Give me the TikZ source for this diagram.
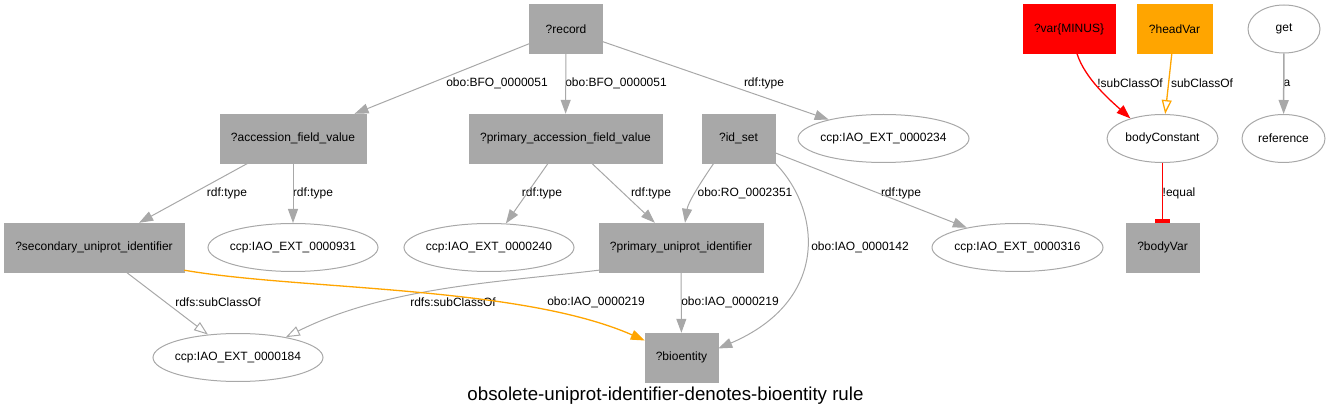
\documentclass[tikz,border=0pt]{standalone}
\usepackage{fontspec}
\setmainfont{Liberation Sans}
\usetikzlibrary{arrows.meta,shapes.geometric}

\definecolor{gvgray}{HTML}{A8A8A8}
\definecolor{gvred}{HTML}{FF0000}
\definecolor{gvorange}{HTML}{FFA500}
\newcommand{\gvfont}{\fontsize{12}{14}\selectfont}

\tikzset{
	var/.style={rectangle, fill=gvgray, draw=gvgray, inner sep=0pt, minimum height=49pt, font=\gvfont},
	const/.style={ellipse, draw=gvgray, line width=1pt, inner sep=0pt, inner xsep=-5pt, minimum height=48pt, font=\gvfont},
	lbl/.style={inner sep=0pt, font=\gvfont},
	rel/.style={draw=gvgray, line width=1pt, -{Triangle[length=14pt,width=10pt]}},
	relsub/.style={draw=gvgray, line width=1pt, -{Triangle[open,length=14pt,width=10pt]}},
}

\begin{document}
\begin{tikzpicture}[x=1pt,y=-1pt]
	\useasboundingbox (0,0) rectangle (1332,419);

	% variables
	\node[var, minimum width=73pt]  (record)    at (566,29)      {?record};
	\node[var, minimum width=146pt] (acc)       at (293,138.5)   {?accession\_field\_value};
	\node[var, minimum width=193pt] (primacc)   at (565.5,138.5) {?primary\_accession\_field\_value};
	\node[var, minimum width=73pt]  (idset)     at (738.5,138.5) {?id\_set};
	\node[var, minimum width=180pt] (secid)     at (94,247.5)    {?secondary\_uniprot\_identifier};
	\node[var, minimum width=164pt] (primid)    at (681,247.5)   {?primary\_uniprot\_identifier};
	\node[var, minimum width=73pt]  (bioentity) at (681.5,357.5) {?bioentity};
	\node[var, minimum width=73pt]  (bodyvar)   at (1162.5,247.5) {?bodyVar};
	\node[var, minimum width=92pt, fill=gvred, draw=gvred]       (minusvar) at (1069,29)   {?var\{MINUS\}};
	\node[var, minimum width=75pt, fill=gvorange, draw=gvorange] (headvar)  at (1174.5,29) {?headVar};

	% constants
	\node[const, minimum width=171pt] (iao234)    at (883.5,138.5)  {ccp:IAO\_EXT\_0000234};
	\node[const, minimum width=170pt] (iao931)    at (293,247.5)    {ccp:IAO\_EXT\_0000931};
	\node[const, minimum width=170pt] (iao240)    at (489,247.5)    {ccp:IAO\_EXT\_0000240};
	\node[const, minimum width=171pt] (iao316)    at (1017.5,247.5) {ccp:IAO\_EXT\_0000316};
	\node[const, minimum width=170pt] (iao184)    at (238,357.5)    {ccp:IAO\_EXT\_0000184};
	\node[const, minimum width=111pt] (bodyconst) at (1162.5,138.5) {bodyConstant};
	\node[const, minimum width=72pt]  (get)       at (1284,29)      {get};
	\node[const, minimum width=83pt]  (reference) at (1283.5,138.5) {reference};

	% edge labels
	\node[lbl] (l-rec-acc)   at (497,83)   {obo:BFO\_0000051};
	\node[lbl] (l-rec-pacc)  at (616,83)   {obo:BFO\_0000051};
	\node[lbl] (l-rec-type)  at (764,83)   {rdf:type};
	\node[lbl] (l-acc-sec)   at (227,193)  {rdf:type};
	\node[lbl] (l-acc-type)  at (313,193)  {rdf:type};
	\node[lbl] (l-pacc-type) at (542,193)  {rdf:type};
	\node[lbl] (l-pacc-pid)  at (651,193)  {rdf:type};
	\node[lbl] (l-set-pid)   at (745,193)  {obo:RO\_0002351};
	\node[lbl] (l-set-type)  at (901,193)  {rdf:type};
	\node[lbl] (l-set-bio)   at (860,247)  {obo:IAO\_0000142};
	\node[lbl] (l-sec-sub)   at (218,302)  {rdfs:subClassOf};
	\node[lbl] (l-pid-sub)   at (453,302)  {rdfs:subClassOf};
	\node[lbl] (l-sec-bio)   at (596,302)  {obo:IAO\_0000219};
	\node[lbl] (l-pid-bio)   at (730,302)  {obo:IAO\_0000219};
	\node[lbl] (l-minus)     at (1130,83)  {!subClassOf};
	\node[lbl] (l-head)      at (1202,83)  {subClassOf};
	\node[lbl] (l-get)       at (1287,83)  {a};
	\node[lbl] (l-equal)     at (1179,193) {!equal};

	% rule graph
	\draw[rel] (record) -- (acc);
	\draw[rel] (record) -- (primacc);
	\draw[rel] (record) -- (iao234);
	\draw[rel] (acc) -- (secid);
	\draw[rel] (acc) -- (iao931);
	\draw[rel] (primacc) -- (iao240);
	\draw[rel] (primacc) -- (primid);
	\draw[rel] ([xshift=12pt]idset.south west) .. controls +(-15,22) and +(3,-20) .. ([xshift=4pt]primid.north);	%RO link
	\draw[rel] (idset.south east) .. controls +(46,47) and +(112,-48) .. ([yshift=9pt]bioentity.east);		%IAO_0000142
	\draw[rel] (idset) -- (iao316);
	\draw[relsub] (secid) -- (iao184);
	\draw[relsub] ([yshift=2pt]primid.south west) .. controls +(-100,12) and +(100,-50) .. (iao184.23);
	\draw[rel, draw=gvorange, line width=1.3pt] ([yshift=2pt]secid.south east) .. controls +(116,20) and +(-125,-55) .. ([yshift=17pt]bioentity.west);
	\draw[rel] (primid) -- (bioentity);

	% legend
	\draw[rel, draw=gvred, line width=1.3pt] ([xshift=8pt]minusvar.south) .. controls +(8,25) and +(-20,-18) .. (bodyconst.148);
	\draw[relsub, draw=gvorange, line width=1.3pt] (headvar) -- (bodyconst);
	\draw[rel, line width=1.5pt] (get) -- (reference);
	\draw[draw=gvred, line width=1.3pt, -{Rectangle[length=4pt,width=15pt]}] (bodyconst) -- (bodyvar);

	\node[font=\fontsize{18.7}{22}\selectfont] (title) at (665.5,396) {obsolete-uniprot-identifier-denotes-bioentity rule};
\end{tikzpicture}
\end{document}
